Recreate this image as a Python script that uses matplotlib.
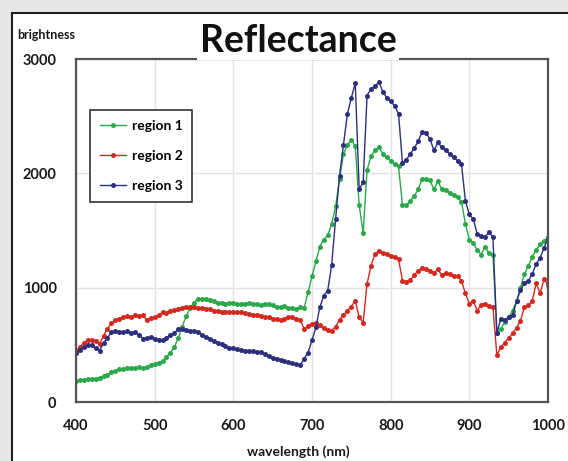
import matplotlib
matplotlib.use("Agg")
import matplotlib.pyplot as plt
from matplotlib.patches import Rectangle
import numpy as np

wavelength = list(range(400, 1001, 5))

region1 = [180, 190, 195, 200, 205, 205, 210, 225, 240, 260, 275, 285, 290, 295, 300, 295,
           305, 295, 305, 320, 330, 345, 360, 395, 430, 480, 560, 660, 750, 820, 870, 900,
           905, 900, 890, 880, 870, 865, 860, 865, 870, 860, 855, 860, 865, 860, 855, 850,
           860, 855, 845, 835, 830, 840, 825, 820, 815, 830, 820, 960, 1100, 1230, 1360, 1420,
           1460, 1560, 1710, 1950, 2170, 2250, 2290, 2240, 1720, 1480, 2030, 2150, 2200, 2230,
           2170, 2140, 2110, 2080, 2060, 1720, 1720, 1760, 1800, 1860, 1950, 1950, 1940, 1860,
           1930, 1860, 1850, 1830, 1810, 1790, 1750, 1560, 1420, 1390, 1330, 1290, 1360, 1300,
           1290, 600, 640, 700, 740, 800, 880, 1000, 1120, 1190, 1270, 1330, 1380, 1410, 1440]

region2 = [450, 480, 520, 540, 545, 530, 510, 580, 640, 690, 715, 730, 740, 750, 740, 760,
           755, 760, 715, 735, 740, 760, 785, 780, 800, 805, 815, 825, 835, 830, 830, 825,
           820, 815, 810, 800, 800, 790, 785, 790, 790, 785, 785, 775, 770, 760, 765, 755,
           740, 745, 730, 725, 715, 730, 740, 740, 725, 720, 640, 665, 685, 695, 670, 645,
           630, 625, 660, 720, 760, 800, 835, 885, 740, 695, 1035, 1190, 1295, 1320, 1300,
           1295, 1280, 1270, 1250, 1060, 1050, 1070, 1110, 1150, 1170, 1165, 1150, 1130, 1160,
           1110, 1130, 1120, 1105, 1100, 1060, 950, 860, 885, 800, 850, 860, 840, 830, 410,
           480, 520, 560, 600, 650, 710, 830, 845, 885, 1040, 950, 1080, 1020]

region3 = [425, 455, 480, 495, 495, 470, 450, 520, 560, 610, 625, 615, 610, 620, 605, 610,
           590, 555, 560, 565, 555, 545, 540, 560, 585, 600, 640, 640, 630, 625, 625, 610,
           590, 570, 550, 535, 515, 505, 490, 475, 470, 460, 455, 450, 450, 445, 440, 435,
           420, 400, 385, 380, 370, 355, 350, 340, 330, 320, 380, 430, 540, 655, 830, 930,
           975, 1200, 1600, 1980, 2250, 2520, 2660, 2790, 1860, 1920, 2680, 2740, 2760, 2800,
           2715, 2660, 2630, 2590, 2520, 2090, 2120, 2170, 2220, 2280, 2365, 2350, 2300, 2200,
           2270, 2230, 2200, 2170, 2140, 2110, 2080, 1760, 1640, 1600, 1470, 1450, 1440, 1490,
           1440, 600, 730, 720, 740, 760, 880, 980, 1040, 1060, 1120, 1210, 1260, 1350, 1430]

series_names = ["region 1", "region 2", "region 3"]
series_colors = ["#2aa84a", "#d3291f", "#2d2f7e"]
x_ticks = [400, 500, 600, 700, 800, 900, 1000]
y_ticks = [0, 1000, 2000, 3000]

FONT = ["Lato", "DejaVu Sans"]
plt.rcParams["font.family"] = FONT

W, H = 568, 461
fig = plt.figure(figsize=(W / 100, H / 100), dpi=100, facecolor="#e6e6e6")

panel = Rectangle((11.5 / W, -0.05), 1.2, 1 - 12.7 / H + 0.05, transform=fig.transFigure,
                  facecolor="white", edgecolor="#1e1e1e", linewidth=1.5, zorder=-10)
fig.patches.append(panel)

ax = fig.add_axes([76 / W, 1 - 402 / H, (548 - 76) / W, (402 - 59) / H])
ax.set_zorder(1)
ax.set_facecolor("white")

for vals, name, col in zip([region1, region2, region3], series_names, series_colors):
    ax.plot(wavelength, vals, color=col, lw=1.0, marker="o", markersize=3.6,
            markeredgewidth=0, label=name)

ax.set_xlim(400, 1000)
ax.set_ylim(0, 3000)
ax.set_xticks(x_ticks)
ax.set_yticks(y_ticks)
ax.grid(True, color="#e3e3e3", lw=1.0)
ax.set_axisbelow(True)
for s in ax.spines.values():
    s.set_color("#555555")
    s.set_linewidth(1.6)
ax.tick_params(length=0, labelsize=10.5, colors="#1a1a1a")
ax.tick_params(axis="x", pad=12)
ax.tick_params(axis="y", pad=14)
for lab in ax.get_xticklabels() + ax.get_yticklabels():
    lab.set_fontweight("bold")

leg = ax.legend(loc="upper left", bbox_to_anchor=((90 - 76) / 472, (402 - 110) / 343),
                borderaxespad=0, fancybox=False, framealpha=1, edgecolor="#333333",
                prop={"family": FONT, "weight": "bold", "size": 10},
                handlelength=1.9, handletextpad=0.4, labelspacing=1.3,
                borderpad=0.7)
leg.get_frame().set_linewidth(1.2)

fig.text(298 / W, 1 - 41 / H, "Reflectance", ha="center", va="center", fontsize=27,
         fontweight="bold", color="#111111",
         bbox=dict(facecolor="white", edgecolor="none", pad=1.5), zorder=20)
fig.text(17 / W, 1 - 35 / H, "brightness", ha="left", va="center", fontsize=9,
         fontweight="bold", color="#1a1a1a")
fig.text(298 / W, 1 - 452 / H, "wavelength (nm)", ha="center", va="center", fontsize=10,
         fontweight="bold", color="#1a1a1a")

fig.savefig("out.png", dpi=100, facecolor=fig.get_facecolor())
